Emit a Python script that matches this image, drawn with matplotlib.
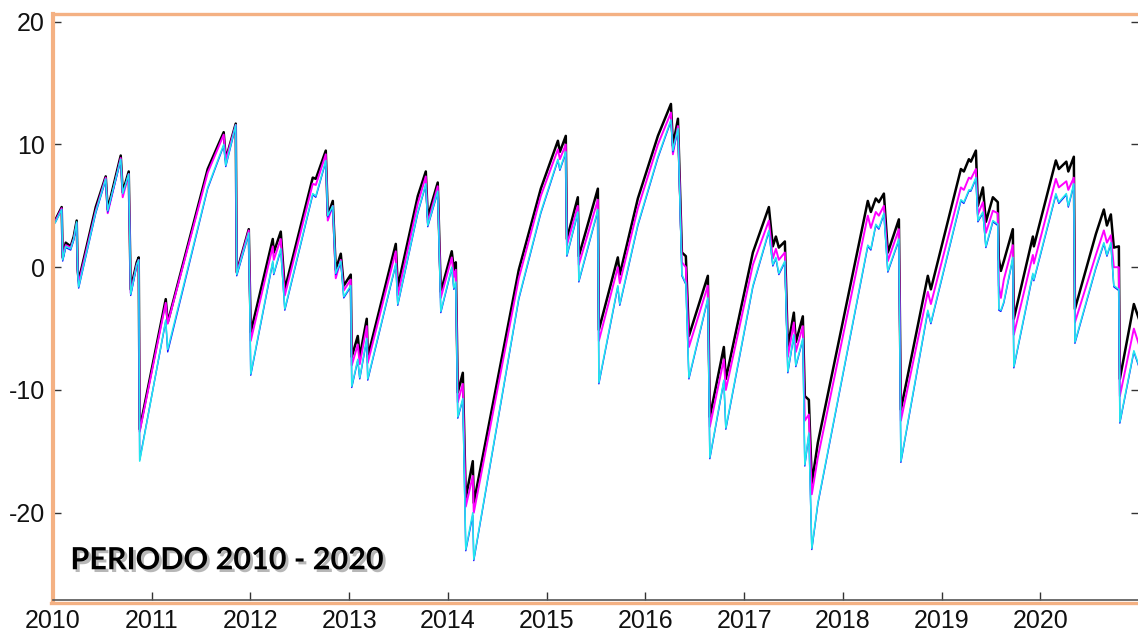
import matplotlib
matplotlib.use("Agg")
import matplotlib.pyplot as plt
import matplotlib.patheffects as pe
from matplotlib.lines import Line2D

plt.rcParams["axes.unicode_minus"] = False

# --- data (decimal years, values) ---
years = [
    2010.000, 2010.027, 2010.088, 2010.098, 2010.129, 2010.179, 2010.210, 2010.240,
    2010.250, 2010.260, 2010.433, 2010.534, 2010.554, 2010.686, 2010.706, 2010.767,
    2010.787, 2010.848, 2010.868, 2010.878, 2011.142, 2011.162, 2011.567, 2011.729,
    2011.750, 2011.851, 2011.861, 2011.983, 2012.003, 2012.226, 2012.236, 2012.307,
    2012.348, 2012.631, 2012.662, 2012.763, 2012.783, 2012.834, 2012.864, 2012.915,
    2012.945, 2013.016, 2013.026, 2013.087, 2013.107, 2013.178, 2013.188, 2013.472,
    2013.492, 2013.695, 2013.776, 2013.796, 2013.897, 2013.928, 2014.039, 2014.060,
    2014.080, 2014.100, 2014.151, 2014.181, 2014.252, 2014.262, 2014.718, 2014.941,
    2015.114, 2015.134, 2015.194, 2015.205, 2015.316, 2015.326, 2015.519, 2015.529,
    2015.721, 2015.741, 2015.924, 2016.127, 2016.259, 2016.279, 2016.330, 2016.370,
    2016.410, 2016.441, 2016.633, 2016.653, 2016.795, 2016.815, 2017.089, 2017.251,
    2017.291, 2017.322, 2017.352, 2017.413, 2017.443, 2017.504, 2017.524, 2017.595,
    2017.615, 2017.656, 2017.686, 2017.747, 2018.253, 2018.284, 2018.334, 2018.365,
    2018.416, 2018.456, 2018.568, 2018.588, 2018.861, 2018.892, 2019.196, 2019.226,
    2019.277, 2019.297, 2019.348, 2019.368, 2019.419, 2019.449, 2019.520, 2019.570,
    2019.580, 2019.601, 2019.631, 2019.722, 2019.732, 2019.925, 2019.935, 2020.158,
    2020.188, 2020.264, 2020.284, 2020.340, 2020.351, 2020.563, 2020.644, 2020.675,
    2020.715, 2020.745, 2020.796, 2020.806, 2020.948, 2020.999,
]

black = [
    3.5, 3.9, 4.9, 0.8, 2.0, 1.7, 2.5, 3.8,
    -0.2, -1.1, 4.9, 7.4, 4.7, 9.1, 6.1, 7.8,
    -1.8, 0.4, 0.8, -13.2, -2.6, -4.5, 8.0, 11.0,
    8.8, 11.7, -0.4, 3.1, -5.3, 2.3, 1.2, 2.9,
    -1.8, 7.3, 7.2, 9.5, 4.2, 5.4, -0.2, 1.1,
    -1.5, -0.6, -7.3, -5.6, -7.3, -4.2, -7.3, 1.9,
    -1.6, 5.8, 7.8, 4.1, 6.9, -2.0, 1.3, -0.2,
    0.4, -10.2, -8.6, -18.8, -15.8, -19.2, -0.2, 6.4,
    10.3, 9.4, 10.7, 2.3, 5.7, 0.9, 6.4, -5.1,
    0.8, -0.6, 5.6, 10.7, 13.3, 9.9, 12.1, 1.2,
    0.9, -5.6, -0.7, -12.2, -6.5, -9.1, 1.2, 4.9,
    1.7, 2.5, 1.6, 2.1, -6.5, -3.7, -6.1, -4.0,
    -10.5, -10.8, -17.6, -14.3, 5.4, 4.5, 5.6, 5.3,
    6.0, 1.2, 3.9, -11.6, -0.7, -1.8, 8.0, 7.8,
    8.8, 8.6, 9.5, 5.0, 6.5, 3.7, 5.7, 5.3,
    0.7, -0.3, 0.5, 3.1, -4.2, 2.5, 1.7, 8.7,
    8.0, 8.6, 7.8, 9.0, -3.4, 2.7, 4.7, 3.4,
    4.3, 1.6, 1.7, -9.1, -3.0, -4.2,
]

magenta = [
    3.5, 3.8, 4.8, 0.7, 1.8, 1.6, 2.3, 3.6,
    -0.3, -1.3, 4.6, 7.3, 4.4, 8.9, 5.7, 7.6,
    -2.1, 0.2, 0.6, -13.4, -2.9, -4.6, 7.7, 10.8,
    8.7, 11.6, -0.5, 3.0, -6.0, 1.7, 0.6, 2.3,
    -2.3, 6.8, 6.7, 9.2, 3.8, 5.0, -0.9, 0.6,
    -1.9, -1.0, -8.0, -6.3, -7.9, -4.8, -7.8, 1.3,
    -2.3, 5.2, 7.4, 3.6, 6.6, -2.5, 0.8, -0.8,
    -0.2, -11.0, -9.5, -19.5, -17.0, -20.0, -0.9, 5.8,
    9.6, 8.8, 10.0, 1.8, 5.0, 0.2, 5.5, -6.0,
    0.0, -1.3, 4.8, 10.0, 12.6, 9.2, 11.5, 0.4,
    0.0, -6.5, -1.5, -13.0, -7.5, -10.0, 0.2, 3.8,
    0.7, 1.5, 0.6, 1.2, -7.3, -4.5, -6.9, -4.8,
    -12.5, -12.0, -18.5, -15.5, 4.2, 3.2, 4.5, 4.2,
    5.0, 0.5, 3.1, -12.5, -2.0, -3.0, 6.5, 6.3,
    7.3, 7.2, 8.0, 4.3, 5.3, 2.8, 4.6, 4.4,
    -1.5, -2.5, -1.0, 1.8, -5.5, 1.0, 0.3, 7.2,
    6.5, 7.0, 6.3, 7.3, -4.5, 1.0, 3.0, 2.0,
    2.6, 0.0, 0.0, -10.5, -5.0, -6.3,
]

blue = [
    3.4, 3.7, 4.7, 0.5, 1.6, 1.4, 2.2, 3.6,
    -0.5, -1.7, 4.4, 7.1, 4.5, 8.7, 6.0, 7.5,
    -2.3, 0.1, 0.5, -15.7, -4.4, -6.9, 6.4, 9.9,
    8.2, 11.5, -0.7, 2.7, -8.8, 0.4, -0.6, 1.4,
    -3.5, 5.9, 5.7, 8.6, 4.1, 4.9, -0.6, 0.4,
    -2.5, -1.6, -9.8, -7.6, -9.1, -5.9, -9.2, 0.2,
    -3.1, 4.4, 6.7, 3.3, 6.1, -3.7, -0.1, -1.8,
    -1.3, -12.3, -10.8, -23.1, -20.2, -23.9, -2.6, 4.4,
    8.7, 7.9, 9.3, 0.9, 4.4, -1.2, 4.6, -9.5,
    -1.6, -3.1, 3.4, 8.9, 11.9, 9.4, 11.2, -0.7,
    -1.4, -9.1, -2.6, -15.6, -9.3, -13.2, -1.6, 2.9,
    0.1, 0.7, -0.6, 0.4, -8.6, -5.6, -8.1, -5.9,
    -16.2, -13.6, -23.0, -19.3, 1.7, 1.4, 3.4, 3.1,
    4.3, -0.4, 2.2, -15.9, -3.6, -4.6, 5.4, 5.2,
    6.2, 6.2, 7.2, 3.7, 4.4, 1.6, 3.7, 3.4,
    -3.5, -3.6, -2.9, 0.7, -8.2, -0.6, -1.1, 5.9,
    5.2, 5.9, 4.9, 6.7, -6.2, -0.1, 1.9, 0.9,
    1.9, -1.6, -1.9, -12.7, -6.9, -8.1,
]

cyan = [
    3.4, 3.7, 4.7, 0.6, 1.7, 1.5, 2.3, 3.7,
    -0.4, -1.6, 4.5, 7.2, 4.6, 8.8, 6.0, 7.6,
    -2.2, 0.2, 0.6, -15.8, -4.3, -6.7, 6.5, 10.0,
    8.3, 11.6, -0.6, 2.8, -8.7, 0.5, -0.5, 1.5,
    -3.4, 6.0, 5.8, 8.7, 4.2, 5.0, -0.5, 0.5,
    -2.4, -1.5, -9.7, -7.5, -9.0, -5.8, -9.1, 0.3,
    -3.0, 4.5, 6.8, 3.4, 6.2, -3.6, 0.0, -1.7,
    -1.2, -12.2, -10.7, -23.0, -20.0, -23.8, -2.5, 4.5,
    8.8, 8.0, 9.4, 1.0, 4.5, -1.1, 4.7, -9.4,
    -1.5, -3.0, 3.5, 9.0, 12.0, 9.5, 11.3, -0.6,
    -1.3, -9.0, -2.5, -15.5, -9.2, -13.1, -1.5, 3.0,
    0.2, 0.8, -0.5, 0.5, -8.5, -5.5, -8.0, -5.8,
    -16.1, -13.5, -22.9, -19.2, 1.8, 1.5, 3.5, 3.2,
    4.4, -0.3, 2.3, -15.8, -3.5, -4.5, 5.5, 5.3,
    6.3, 6.3, 7.3, 3.8, 4.5, 1.7, 3.8, 3.5,
    -3.4, -3.5, -2.8, 0.8, -8.1, -0.5, -1.0, 6.0,
    5.3, 6.0, 5.0, 6.8, -6.1, 0.0, 2.0, 1.0,
    2.0, -1.5, -1.8, -12.6, -6.8, -8.0,
]

x_ticks = list(range(2010, 2021))
y_ticks = [-20, -10, 0, 10, 20]

ORANGE = "#F4B183"

fig = plt.figure(figsize=(11.38, 6.35), dpi=100)
ax = fig.add_axes([53 / 1138, 35.5 / 635, 1086 / 1138, 586 / 635])

ax.plot(years, black, color="black", lw=1.8)
ax.plot(years, magenta, color="#FF00FF", lw=1.4)
ax.plot(years, blue, color="#1010FF", lw=1.0)
ax.plot(years, cyan, color="#22E8EE", lw=1.1)

ax.set_xlim(2010, 2021.0)
ax.set_ylim(-27.07, 20.67)
ax.set_xticks(x_ticks)
ax.set_yticks(y_ticks)

ax.tick_params(direction="in", length=6, width=1, color="#333333",
               labelsize=18, labelcolor="#111111")
ax.tick_params(axis="y", right=True, pad=6)
ax.tick_params(axis="x", pad=7)
for lab in ax.get_xticklabels() + ax.get_yticklabels():
    lab.set_fontfamily("Liberation Sans")

ax.spines["right"].set_visible(False)
ax.spines["left"].set_color(ORANGE)
ax.spines["left"].set_linewidth(3)
ax.spines["top"].set_color(ORANGE)
ax.spines["top"].set_linewidth(2.4)
ax.spines["bottom"].set_color("#555555")
ax.spines["bottom"].set_linewidth(1.2)

# orange frame line just under the bottom axis
fig.add_artist(Line2D([51 / 1138, 1.0], [32.5 / 635, 32.5 / 635],
                      color=ORANGE, lw=2.4, transform=fig.transFigure))

ax.text(0.016, 0.067, "PERIODO 2010 - 2020", transform=ax.transAxes,
        fontsize=22, fontweight="bold", family="Lato", color="black",
        ha="left", va="center",
        path_effects=[pe.SimplePatchShadow(offset=(2, -2), shadow_rgbFace="#888888", alpha=0.6),
                      pe.Normal()])

fig.savefig("out.png", dpi=100)
